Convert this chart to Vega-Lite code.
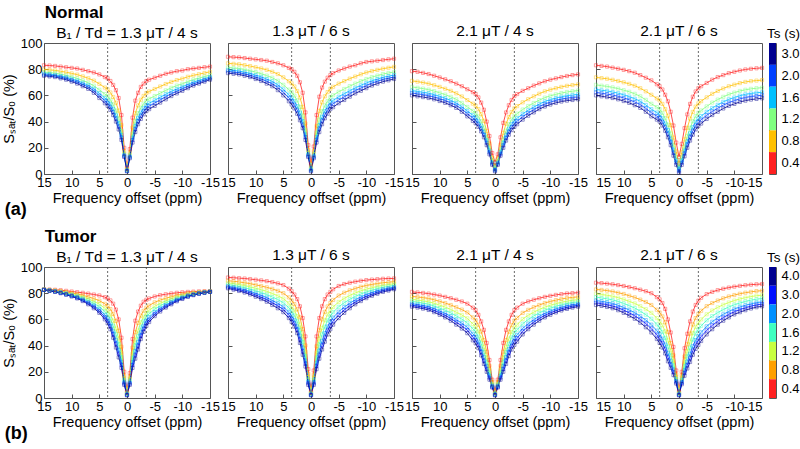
{
"$schema":"https://vega.github.io/schema/vega-lite/v6.json",
"padding":{"left":0,"top":3,"right":0,"bottom":0},
"background":"white",
"config":{
 "font":"Liberation Sans",
 "view":{"stroke":"#555","strokeWidth":1},
 "axis":{"domain":false,"grid":false,"tickColor":"#555","tickSize":-4,"labelFontSize":13,"labelColor":"#000","titleFontSize":14.5,"titleFontWeight":"normal","titleColor":"#000","labelPadding":6,"labelOverlap":false,"labelFlush":false},
 "title":{"fontSize":15.5,"fontWeight":"normal","offset":3,"color":"#000"}
},
"datasets":{
"top":[
{"p":"a1","x":15,"a":83,"b":79.8,"c":77.8,"d":76.6,"e":75.8,"f":75},
{"p":"a1","x":14,"a":82.8,"b":79.5,"c":77.4,"d":76.2,"e":75.3,"f":74.5},
{"p":"a1","x":13,"a":82.5,"b":79.1,"c":77,"d":75.7,"e":74.9,"f":74},
{"p":"a1","x":12,"a":82,"b":78.4,"c":76.2,"d":74.8,"e":73.9,"f":73},
{"p":"a1","x":11,"a":81.5,"b":77.7,"c":75.3,"d":73.9,"e":73,"f":72},
{"p":"a1","x":10,"a":81,"b":76.8,"c":74.2,"d":72.6,"e":71.6,"f":70.5},
{"p":"a1","x":9,"a":80.5,"b":75.9,"c":73,"d":71.3,"e":70.2,"f":69},
{"p":"a1","x":8,"a":79.5,"b":74.5,"c":71.4,"d":69.5,"e":68.3,"f":67},
{"p":"a1","x":7,"a":78.5,"b":73.1,"c":69.7,"d":67.7,"e":66.4,"f":65},
{"p":"a1","x":6,"a":77.5,"b":71.3,"c":67.4,"d":65.1,"e":63.6,"f":62},
{"p":"a1","x":5,"a":76,"b":68.8,"c":64.3,"d":61.6,"e":59.8,"f":58},
{"p":"a1","x":4,"a":74,"b":66,"c":61,"d":58,"e":56,"f":54},
{"p":"a1","x":3.5,"a":73,"b":64.6,"c":59.4,"d":56.2,"e":54.1,"f":52},
{"p":"a1","x":3,"a":71,"b":62.2,"c":56.7,"d":53.4,"e":51.2,"f":49},
{"p":"a1","x":2.5,"a":68,"b":58.8,"c":53.1,"d":49.6,"e":47.3,"f":45},
{"p":"a1","x":2,"a":64,"b":54.4,"c":48.4,"d":44.8,"e":42.4,"f":40},
{"p":"a1","x":1.5,"a":58,"b":48.4,"c":42.4,"d":38.8,"e":36.4,"f":34},
{"p":"a1","x":1,"a":45,"b":37.4,"c":32.7,"d":29.8,"e":27.9,"f":26},
{"p":"a1","x":0.5,"a":20,"b":17.2,"c":15.5,"d":14.4,"e":13.7,"f":13},
{"p":"a1","x":0,"a":5,"b":3.8,"c":3,"d":2.6,"e":2.3,"f":2},
{"p":"a1","x":-0.5,"a":19,"b":16.2,"c":14.5,"d":13.4,"e":12.7,"f":12},
{"p":"a1","x":-1,"a":43,"b":35.4,"c":30.7,"d":27.8,"e":25.9,"f":24},
{"p":"a1","x":-1.5,"a":56,"b":46.4,"c":40.4,"d":36.8,"e":34.4,"f":32},
{"p":"a1","x":-2,"a":62,"b":52.4,"c":46.4,"d":42.8,"e":40.4,"f":38},
{"p":"a1","x":-2.5,"a":66.5,"b":56.7,"c":50.6,"d":46.9,"e":44.5,"f":42},
{"p":"a1","x":-3,"a":69,"b":59.6,"c":53.7,"d":50.2,"e":47.9,"f":45.5},
{"p":"a1","x":-3.5,"a":71,"b":61.8,"c":56.1,"d":52.6,"e":50.3,"f":48},
{"p":"a1","x":-4,"a":72,"b":63,"c":57.4,"d":54,"e":51.8,"f":49.5},
{"p":"a1","x":-5,"a":73.5,"b":64.9,"c":59.5,"d":56.3,"e":54.2,"f":52},
{"p":"a1","x":-6,"a":75,"b":66.8,"c":61.7,"d":58.6,"e":56.6,"f":54.5},
{"p":"a1","x":-7,"a":76.5,"b":68.7,"c":63.8,"d":60.9,"e":59,"f":57},
{"p":"a1","x":-8,"a":77.5,"b":70.3,"c":65.8,"d":63.1,"e":61.3,"f":59.5},
{"p":"a1","x":-9,"a":78.5,"b":71.7,"c":67.5,"d":64.9,"e":63.2,"f":61.5},
{"p":"a1","x":-10,"a":79,"b":72.8,"c":68.9,"d":66.6,"e":65.1,"f":63.5},
{"p":"a1","x":-11,"a":80,"b":74.2,"c":70.6,"d":68.4,"e":67,"f":65.5},
{"p":"a1","x":-12,"a":80.5,"b":75.3,"c":72.1,"d":70.1,"e":68.8,"f":67.5},
{"p":"a1","x":-13,"a":81,"b":76.2,"c":73.2,"d":71.4,"e":70.2,"f":69},
{"p":"a1","x":-14,"a":81.5,"b":77.1,"c":74.4,"d":72.7,"e":71.6,"f":70.5},
{"p":"a1","x":-15,"a":82,"b":78,"c":75.5,"d":74,"e":73,"f":72},

{"p":"a2","x":15,"a":89.5,"b":84.5,"c":81.4,"d":79.5,"e":78.3,"f":77},
{"p":"a2","x":14,"a":89.2,"b":84.1,"c":80.9,"d":79,"e":77.8,"f":76.5},
{"p":"a2","x":13,"a":89,"b":83.8,"c":80.6,"d":78.6,"e":77.3,"f":76},
{"p":"a2","x":12,"a":88.5,"b":83.1,"c":79.7,"d":77.7,"e":76.4,"f":75},
{"p":"a2","x":11,"a":88,"b":82.4,"c":78.9,"d":76.8,"e":75.4,"f":74},
{"p":"a2","x":10,"a":87.5,"b":81.5,"c":77.8,"d":75.5,"e":74,"f":72.5},
{"p":"a2","x":9,"a":87,"b":80.6,"c":76.6,"d":74.2,"e":72.6,"f":71},
{"p":"a2","x":8,"a":86.5,"b":79.5,"c":75.1,"d":72.5,"e":70.8,"f":69},
{"p":"a2","x":7,"a":85.5,"b":78.1,"c":73.5,"d":70.7,"e":68.9,"f":67},
{"p":"a2","x":6,"a":84.5,"b":76.3,"c":71.2,"d":68.1,"e":66.1,"f":64},
{"p":"a2","x":5,"a":83,"b":73.8,"c":68.1,"d":64.6,"e":62.3,"f":60},
{"p":"a2","x":4,"a":81,"b":70.8,"c":64.4,"d":60.6,"e":58.1,"f":55.5},
{"p":"a2","x":3.5,"a":80,"b":69.2,"c":62.5,"d":58.4,"e":55.7,"f":53},
{"p":"a2","x":3,"a":78,"b":66.8,"c":59.8,"d":55.6,"e":52.8,"f":50},
{"p":"a2","x":2.5,"a":75,"b":63.4,"c":56.2,"d":51.8,"e":48.9,"f":46},
{"p":"a2","x":2,"a":70,"b":58.4,"c":51.2,"d":46.8,"e":43.9,"f":41},
{"p":"a2","x":1.5,"a":62,"b":51.2,"c":44.5,"d":40.4,"e":37.7,"f":35},
{"p":"a2","x":1,"a":47,"b":38.6,"c":33.4,"d":30.2,"e":28.1,"f":26},
{"p":"a2","x":0.5,"a":22,"b":18.4,"c":16.2,"d":14.8,"e":13.9,"f":13},
{"p":"a2","x":0,"a":8,"b":5.6,"c":4.1,"d":3.2,"e":2.6,"f":2},
{"p":"a2","x":-0.5,"a":21,"b":17.4,"c":15.2,"d":13.8,"e":12.9,"f":12},
{"p":"a2","x":-1,"a":45,"b":36.6,"c":31.4,"d":28.2,"e":26.1,"f":24},
{"p":"a2","x":-1.5,"a":59,"b":48.2,"c":41.5,"d":37.4,"e":34.7,"f":32},
{"p":"a2","x":-2,"a":66,"b":54.8,"c":47.8,"d":43.6,"e":40.8,"f":38},
{"p":"a2","x":-2.5,"a":70.5,"b":59.3,"c":52.3,"d":48.1,"e":45.3,"f":42.5},
{"p":"a2","x":-3,"a":73.5,"b":62.5,"c":55.6,"d":51.5,"e":48.8,"f":46},
{"p":"a2","x":-3.5,"a":75.5,"b":65.1,"c":58.6,"d":54.7,"e":52.1,"f":49.5},
{"p":"a2","x":-4,"a":77,"b":66.6,"c":60.1,"d":56.2,"e":53.6,"f":51},
{"p":"a2","x":-5,"a":79,"b":69,"c":62.8,"d":59,"e":56.5,"f":54},
{"p":"a2","x":-6,"a":80.5,"b":70.9,"c":64.9,"d":61.3,"e":58.9,"f":56.5},
{"p":"a2","x":-7,"a":82,"b":72.8,"c":67.1,"d":63.6,"e":61.3,"f":59},
{"p":"a2","x":-8,"a":83,"b":74.4,"c":69,"d":65.8,"e":63.7,"f":61.5},
{"p":"a2","x":-9,"a":84.5,"b":76.1,"c":70.9,"d":67.7,"e":65.6,"f":63.5},
{"p":"a2","x":-10,"a":85.5,"b":77.5,"c":72.5,"d":69.5,"e":67.5,"f":65.5},
{"p":"a2","x":-11,"a":86,"b":78.6,"c":74,"d":71.2,"e":69.4,"f":67.5},
{"p":"a2","x":-12,"a":86.5,"b":79.5,"c":75.1,"d":72.5,"e":70.8,"f":69},
{"p":"a2","x":-13,"a":87,"b":80.4,"c":76.3,"d":73.8,"e":72.2,"f":70.5},
{"p":"a2","x":-14,"a":87.5,"b":81.1,"c":77.1,"d":74.7,"e":73.1,"f":71.5},
{"p":"a2","x":-15,"a":88,"b":81.8,"c":77.9,"d":75.6,"e":74.1,"f":72.5},

{"p":"a3","x":15,"a":78.5,"b":71.1,"c":66.5,"d":63.7,"e":61.9,"f":60},
{"p":"a3","x":14,"a":78,"b":70.5,"c":65.8,"d":63,"e":61.2,"f":59.3},
{"p":"a3","x":13,"a":77.2,"b":69.8,"c":65.2,"d":62.4,"e":60.6,"f":58.7},
{"p":"a3","x":12,"a":76.3,"b":69,"c":64.4,"d":61.7,"e":59.8,"f":58},
{"p":"a3","x":11,"a":75,"b":67.8,"c":63.3,"d":60.6,"e":58.8,"f":57},
{"p":"a3","x":10,"a":73.7,"b":66.5,"c":62,"d":59.3,"e":57.5,"f":55.7},
{"p":"a3","x":9,"a":72.3,"b":65.1,"c":60.6,"d":57.9,"e":56.1,"f":54.3},
{"p":"a3","x":8,"a":70.8,"b":63.5,"c":58.9,"d":56.2,"e":54.3,"f":52.5},
{"p":"a3","x":7,"a":69,"b":61.6,"c":57,"d":54.2,"e":52.4,"f":50.5},
{"p":"a3","x":6,"a":67,"b":59.2,"c":54.3,"d":51.4,"e":49.5,"f":47.5},
{"p":"a3","x":5,"a":64.7,"b":56.4,"c":51.2,"d":48.1,"e":46.1,"f":44},
{"p":"a3","x":4,"a":62.5,"b":53.7,"c":48.2,"d":44.9,"e":42.7,"f":40.5},
{"p":"a3","x":3.5,"a":61,"b":52.1,"c":46.5,"d":43.2,"e":40.9,"f":38.7},
{"p":"a3","x":3,"a":58.5,"b":49.5,"c":43.9,"d":40.5,"e":38.3,"f":36},
{"p":"a3","x":2.5,"a":54.5,"b":45.7,"c":40.2,"d":36.9,"e":34.7,"f":32.5},
{"p":"a3","x":2,"a":49,"b":40.6,"c":35.4,"d":32.2,"e":30.1,"f":28},
{"p":"a3","x":1.5,"a":40,"b":32.8,"c":28.3,"d":25.6,"e":23.8,"f":22},
{"p":"a3","x":1,"a":29,"b":23.4,"c":19.9,"d":17.8,"e":16.4,"f":15},
{"p":"a3","x":0.5,"a":16,"b":12.4,"c":10.2,"d":8.8,"e":7.9,"f":7},
{"p":"a3","x":0,"a":9,"b":6.2,"c":4.5,"d":3.4,"e":2.7,"f":2},
{"p":"a3","x":-0.5,"a":15,"b":11.8,"c":9.8,"d":8.6,"e":7.8,"f":7},
{"p":"a3","x":-1,"a":28,"b":22.4,"c":18.9,"d":16.8,"e":15.4,"f":14},
{"p":"a3","x":-1.5,"a":39,"b":31.4,"c":26.7,"d":23.8,"e":21.9,"f":20},
{"p":"a3","x":-2,"a":47,"b":38.4,"c":33,"d":29.8,"e":27.7,"f":25.5},
{"p":"a3","x":-2.5,"a":52.5,"b":43.5,"c":37.9,"d":34.5,"e":32.3,"f":30},
{"p":"a3","x":-3,"a":56.5,"b":47.3,"c":41.6,"d":38.1,"e":35.8,"f":33.5},
{"p":"a3","x":-3.5,"a":59.5,"b":50.1,"c":44.2,"d":40.7,"e":38.4,"f":36},
{"p":"a3","x":-4,"a":61,"b":51.8,"c":46.1,"d":42.6,"e":40.3,"f":38},
{"p":"a3","x":-5,"a":63.5,"b":54.7,"c":49.2,"d":45.9,"e":43.7,"f":41.5},
{"p":"a3","x":-6,"a":65.5,"b":57.1,"c":51.9,"d":48.7,"e":46.6,"f":44.5},
{"p":"a3","x":-7,"a":67.5,"b":59.3,"c":54.2,"d":51.1,"e":49.1,"f":47},
{"p":"a3","x":-8,"a":69.2,"b":61.3,"c":56.4,"d":53.4,"e":51.5,"f":49.5},
{"p":"a3","x":-9,"a":70.8,"b":63.1,"c":58.3,"d":55.4,"e":53.4,"f":51.5},
{"p":"a3","x":-10,"a":72,"b":64.4,"c":59.7,"d":56.8,"e":54.9,"f":53},
{"p":"a3","x":-11,"a":73,"b":65.5,"c":60.8,"d":58,"e":56.2,"f":54.3},
{"p":"a3","x":-12,"a":74,"b":66.5,"c":61.8,"d":59,"e":57.2,"f":55.3},
{"p":"a3","x":-13,"a":74.8,"b":67.3,"c":62.6,"d":59.8,"e":57.9,"f":56},
{"p":"a3","x":-14,"a":75.5,"b":67.9,"c":63.2,"d":60.3,"e":58.4,"f":56.5},
{"p":"a3","x":-15,"a":76,"b":68.4,"c":63.7,"d":60.8,"e":58.9,"f":57},

{"p":"a4","x":15,"a":83,"b":73.8,"c":68.1,"d":64.6,"e":62.3,"f":60},
{"p":"a4","x":14,"a":82.5,"b":73.2,"c":67.4,"d":63.9,"e":61.6,"f":59.3},
{"p":"a4","x":13,"a":82,"b":72.7,"c":66.9,"d":63.4,"e":61,"f":58.7},
{"p":"a4","x":12,"a":81.2,"b":71.9,"c":66.1,"d":62.6,"e":60.3,"f":58},
{"p":"a4","x":11,"a":80.4,"b":71,"c":65.2,"d":61.7,"e":59.3,"f":57},
{"p":"a4","x":10,"a":79.5,"b":70,"c":64,"d":60.5,"e":58.1,"f":55.7},
{"p":"a4","x":9,"a":78.5,"b":68.8,"c":62.8,"d":59.1,"e":56.7,"f":54.3},
{"p":"a4","x":8,"a":77.3,"b":67.4,"c":61.2,"d":57.5,"e":55,"f":52.5},
{"p":"a4","x":7,"a":75.5,"b":65.5,"c":59.3,"d":55.5,"e":53,"f":50.5},
{"p":"a4","x":6,"a":73.5,"b":63.1,"c":56.6,"d":52.7,"e":50.1,"f":47.5},
{"p":"a4","x":5,"a":71.5,"b":60.5,"c":53.6,"d":49.5,"e":46.8,"f":44},
{"p":"a4","x":4,"a":68.5,"b":57.7,"c":51,"d":46.9,"e":44.2,"f":41.5},
{"p":"a4","x":3.5,"a":67,"b":56.2,"c":49.5,"d":45.4,"e":42.7,"f":40},
{"p":"a4","x":3,"a":64.5,"b":53.5,"c":46.6,"d":42.5,"e":39.8,"f":37},
{"p":"a4","x":2.5,"a":60.5,"b":49.5,"c":42.6,"d":38.5,"e":35.8,"f":33},
{"p":"a4","x":2,"a":55.5,"b":44.5,"c":37.6,"d":33.5,"e":30.8,"f":28},
{"p":"a4","x":1.5,"a":47.5,"b":37.3,"c":30.9,"d":27.1,"e":24.6,"f":22},
{"p":"a4","x":1,"a":37,"b":27.8,"c":22.1,"d":18.6,"e":16.3,"f":14},
{"p":"a4","x":0.5,"a":24,"b":17.2,"c":13,"d":10.4,"e":8.7,"f":7},
{"p":"a4","x":0,"a":13,"b":8.2,"c":5.2,"d":3.4,"e":2.2,"f":1},
{"p":"a4","x":-0.5,"a":23,"b":16.6,"c":12.6,"d":10.2,"e":8.6,"f":7},
{"p":"a4","x":-1,"a":35,"b":26.4,"c":21,"d":17.8,"e":15.7,"f":13.5},
{"p":"a4","x":-1.5,"a":45.5,"b":35.3,"c":28.9,"d":25.1,"e":22.6,"f":20},
{"p":"a4","x":-2,"a":53.5,"b":42.3,"c":35.3,"d":31.1,"e":28.3,"f":25.5},
{"p":"a4","x":-2.5,"a":59,"b":47.4,"c":40.2,"d":35.8,"e":32.9,"f":30},
{"p":"a4","x":-3,"a":63,"b":51.4,"c":44.2,"d":39.8,"e":36.9,"f":34},
{"p":"a4","x":-3.5,"a":65.5,"b":53.9,"c":46.7,"d":42.4,"e":39.5,"f":36.6},
{"p":"a4","x":-4,"a":67,"b":55.6,"c":48.5,"d":44.2,"e":41.4,"f":38.5},
{"p":"a4","x":-5,"a":69.5,"b":58.5,"c":51.6,"d":47.5,"e":44.8,"f":42},
{"p":"a4","x":-6,"a":72,"b":61.2,"c":54.5,"d":50.4,"e":47.7,"f":45},
{"p":"a4","x":-7,"a":74,"b":63.4,"c":56.8,"d":52.8,"e":50.2,"f":47.5},
{"p":"a4","x":-8,"a":75.5,"b":65.3,"c":58.9,"d":55.1,"e":52.6,"f":50},
{"p":"a4","x":-9,"a":77,"b":67,"c":60.8,"d":57,"e":54.5,"f":52},
{"p":"a4","x":-10,"a":78,"b":68.2,"c":62.1,"d":58.4,"e":56,"f":53.5},
{"p":"a4","x":-11,"a":79,"b":69.4,"c":63.4,"d":59.8,"e":57.4,"f":55},
{"p":"a4","x":-12,"a":79.8,"b":70.3,"c":64.3,"d":60.8,"e":58.4,"f":56},
{"p":"a4","x":-13,"a":80.3,"b":70.9,"c":65,"d":61.5,"e":59.2,"f":56.8},
{"p":"a4","x":-14,"a":80.7,"b":71.3,"c":65.5,"d":62,"e":59.6,"f":57.3},
{"p":"a4","x":-15,"a":81,"b":71.7,"c":65.9,"d":62.4,"e":60.1,"f":57.8}
],
"bottom":[
{"p":"b1","x":15,"a":83,"b":82.9,"c":82.8,"d":82.7,"e":82.6,"f":82.6,"g":82.5},
{"p":"b1","x":14,"a":82.8,"b":82.5,"c":82.3,"d":82.2,"e":82,"f":81.9,"g":81.8},
{"p":"b1","x":13,"a":82.6,"b":82.1,"c":81.8,"d":81.6,"e":81.3,"f":81.2,"g":81},
{"p":"b1","x":12,"a":82.3,"b":81.6,"c":81.2,"d":80.8,"e":80.5,"f":80.2,"g":80},
{"p":"b1","x":11,"a":81.8,"b":80.9,"c":80.3,"d":79.9,"e":79.4,"f":79.1,"g":78.8},
{"p":"b1","x":10,"a":81.3,"b":80.2,"c":79.4,"d":78.8,"e":78.3,"f":77.9,"g":77.5},
{"p":"b1","x":9,"a":80.8,"b":79.4,"c":78.4,"d":77.7,"e":77,"f":76.5,"g":76},
{"p":"b1","x":8,"a":80.3,"b":78.4,"c":77.2,"d":76.2,"e":75.3,"f":74.6,"g":74},
{"p":"b1","x":7,"a":79.7,"b":77.2,"c":75.6,"d":74.4,"e":73.1,"f":72.3,"g":71.5},
{"p":"b1","x":6,"a":79,"b":75.9,"c":73.8,"d":72.2,"e":70.6,"f":69.6,"g":68.5},
{"p":"b1","x":5,"a":78.3,"b":74.3,"c":71.7,"d":69.7,"e":67.7,"f":66.3,"g":65},
{"p":"b1","x":4,"a":77,"b":71.9,"c":68.5,"d":66,"e":63.4,"f":61.7,"g":60},
{"p":"b1","x":3.5,"a":76,"b":70.3,"c":66.5,"d":63.7,"e":60.8,"f":58.9,"g":57},
{"p":"b1","x":3,"a":74.5,"b":67.9,"c":63.5,"d":60.2,"e":56.9,"f":54.7,"g":52.5},
{"p":"b1","x":2.5,"a":72,"b":64.2,"c":59,"d":55.1,"e":51.2,"f":48.6,"g":46},
{"p":"b1","x":2,"a":67.5,"b":58.8,"c":53,"d":48.7,"e":44.3,"f":41.4,"g":38.5},
{"p":"b1","x":1.5,"a":60,"b":51.3,"c":45.5,"d":41.2,"e":36.8,"f":33.9,"g":31},
{"p":"b1","x":1,"a":46,"b":39.1,"c":34.5,"d":31.1,"e":27.6,"f":25.3,"g":23},
{"p":"b1","x":0.5,"a":20,"b":17,"c":15,"d":13.5,"e":12,"f":11,"g":10},
{"p":"b1","x":0,"a":5,"b":4.1,"c":3.5,"d":3.1,"e":2.6,"f":2.3,"g":2},
{"p":"b1","x":-0.5,"a":19,"b":16.3,"c":14.5,"d":13.2,"e":11.8,"f":10.9,"g":10},
{"p":"b1","x":-1,"a":45,"b":38.4,"c":34,"d":30.7,"e":27.4,"f":25.2,"g":23},
{"p":"b1","x":-1.5,"a":59,"b":50.3,"c":44.5,"d":40.2,"e":35.8,"f":32.9,"g":30},
{"p":"b1","x":-2,"a":66,"b":57.3,"c":51.5,"d":47.2,"e":42.8,"f":39.9,"g":37},
{"p":"b1","x":-2.5,"a":70.5,"b":62.9,"c":57.8,"d":53.9,"e":50.1,"f":47.6,"g":45},
{"p":"b1","x":-3,"a":73.5,"b":66.6,"c":62,"d":58.6,"e":55.1,"f":52.8,"g":50.5},
{"p":"b1","x":-3.5,"a":75,"b":69,"c":65,"d":62,"e":59,"f":57,"g":55},
{"p":"b1","x":-4,"a":76,"b":70.6,"c":67,"d":64.3,"e":61.6,"f":59.8,"g":58},
{"p":"b1","x":-5,"a":77.5,"b":73,"c":70,"d":67.8,"e":65.5,"f":64,"g":62.5},
{"p":"b1","x":-6,"a":78.5,"b":74.8,"c":72.3,"d":70.4,"e":68.5,"f":67.3,"g":66},
{"p":"b1","x":-7,"a":79.2,"b":76.1,"c":74.1,"d":72.6,"e":71,"f":70,"g":69},
{"p":"b1","x":-8,"a":79.8,"b":77.3,"c":75.7,"d":74.4,"e":73.2,"f":72.3,"g":71.5},
{"p":"b1","x":-9,"a":80.3,"b":78.4,"c":77.1,"d":76.1,"e":75.1,"f":74.5,"g":73.8},
{"p":"b1","x":-10,"a":80.7,"b":79.2,"c":78.2,"d":77.4,"e":76.6,"f":76.1,"g":75.6},
{"p":"b1","x":-11,"a":81,"b":79.9,"c":79.1,"d":78.5,"e":78,"f":77.6,"g":77.2},
{"p":"b1","x":-12,"a":81.2,"b":80.4,"c":79.9,"d":79.4,"e":79,"f":78.8,"g":78.5},
{"p":"b1","x":-13,"a":81.4,"b":80.8,"c":80.5,"d":80.2,"e":79.9,"f":79.7,"g":79.5},
{"p":"b1","x":-14,"a":81.5,"b":81.1,"c":80.9,"d":80.7,"e":80.5,"f":80.4,"g":80.3},
{"p":"b1","x":-15,"a":81.6,"b":81.4,"c":81.3,"d":81.2,"e":81.1,"f":81.1,"g":81},

{"p":"b2","x":15,"a":92,"b":89.5,"c":87.9,"d":86.6,"e":85.4,"f":84.5,"g":83.7},
{"p":"b2","x":14,"a":91.8,"b":89.1,"c":87.3,"d":85.9,"e":84.5,"f":83.6,"g":82.7},
{"p":"b2","x":13,"a":91.5,"b":88.6,"c":86.6,"d":85.1,"e":83.7,"f":82.7,"g":81.7},
{"p":"b2","x":12,"a":91.2,"b":88,"c":85.9,"d":84.2,"e":82.6,"f":81.6,"g":80.5},
{"p":"b2","x":11,"a":90.8,"b":87.3,"c":84.9,"d":83.1,"e":81.4,"f":80.2,"g":79},
{"p":"b2","x":10,"a":90.3,"b":86.4,"c":83.8,"d":81.9,"e":79.9,"f":78.6,"g":77.3},
{"p":"b2","x":9,"a":89.8,"b":85.5,"c":82.7,"d":80.5,"e":78.4,"f":76.9,"g":75.5},
{"p":"b2","x":8,"a":89.2,"b":84.5,"c":81.4,"d":79,"e":76.6,"f":75.1,"g":73.5},
{"p":"b2","x":7,"a":88.5,"b":83.3,"c":79.8,"d":77.1,"e":74.5,"f":72.8,"g":71},
{"p":"b2","x":6,"a":87.5,"b":81.8,"c":78,"d":75.2,"e":72.3,"f":70.4,"g":68.5},
{"p":"b2","x":5,"a":86.2,"b":80,"c":75.9,"d":72.7,"e":69.6,"f":67.6,"g":65.5},
{"p":"b2","x":4,"a":83.5,"b":76.8,"c":72.3,"d":68.9,"e":65.5,"f":63.3,"g":61},
{"p":"b2","x":3.5,"a":81.5,"b":74.5,"c":69.8,"d":66.2,"e":62.7,"f":60.4,"g":58},
{"p":"b2","x":3,"a":79,"b":71.7,"c":66.8,"d":63.1,"e":59.4,"f":57,"g":54.5},
{"p":"b2","x":2.5,"a":75.5,"b":67.7,"c":62.5,"d":58.6,"e":54.7,"f":52.1,"g":49.5},
{"p":"b2","x":2,"a":70,"b":61.6,"c":56,"d":51.8,"e":47.6,"f":44.8,"g":42},
{"p":"b2","x":1.5,"a":61,"b":52.6,"c":47,"d":42.8,"e":38.6,"f":35.8,"g":33},
{"p":"b2","x":1,"a":47,"b":40.1,"c":35.5,"d":32.1,"e":28.6,"f":26.3,"g":24},
{"p":"b2","x":0.5,"a":22,"b":18.4,"c":16,"d":14.2,"e":12.4,"f":11.2,"g":10},
{"p":"b2","x":0,"a":5,"b":4.1,"c":3.5,"d":3.1,"e":2.6,"f":2.3,"g":2},
{"p":"b2","x":-0.5,"a":21,"b":17.7,"c":15.5,"d":13.9,"e":12.2,"f":11.1,"g":10},
{"p":"b2","x":-1,"a":47,"b":39.5,"c":34.5,"d":30.8,"e":27,"f":24.5,"g":22},
{"p":"b2","x":-1.5,"a":61,"b":51.7,"c":45.5,"d":40.9,"e":36.2,"f":33.1,"g":30},
{"p":"b2","x":-2,"a":70,"b":60.1,"c":53.5,"d":48.6,"e":43.6,"f":40.3,"g":37},
{"p":"b2","x":-2.5,"a":75.5,"b":65.8,"c":59.3,"d":54.4,"e":49.5,"f":46.3,"g":43},
{"p":"b2","x":-3,"a":79,"b":69.9,"c":63.8,"d":59.2,"e":54.6,"f":51.6,"g":48.5},
{"p":"b2","x":-3.5,"a":81,"b":72.5,"c":66.8,"d":62.5,"e":58.2,"f":55.4,"g":52.5},
{"p":"b2","x":-4,"a":83,"b":74.9,"c":69.5,"d":65.5,"e":61.4,"f":58.7,"g":56},
{"p":"b2","x":-5,"a":85.5,"b":78.2,"c":73.3,"d":69.6,"e":65.9,"f":63.5,"g":61},
{"p":"b2","x":-6,"a":87,"b":80.4,"c":76,"d":72.7,"e":69.4,"f":67.2,"g":65},
{"p":"b2","x":-7,"a":88,"b":82.2,"c":78.3,"d":75.3,"e":72.4,"f":70.5,"g":68.5},
{"p":"b2","x":-8,"a":88.8,"b":83.6,"c":80.2,"d":77.6,"e":75,"f":73.2,"g":71.5},
{"p":"b2","x":-9,"a":89.5,"b":84.9,"c":81.8,"d":79.4,"e":77.1,"f":75.6,"g":74},
{"p":"b2","x":-10,"a":90,"b":85.9,"c":83.1,"d":81,"e":79,"f":77.6,"g":76.2},
{"p":"b2","x":-11,"a":90.4,"b":86.7,"c":84.2,"d":82.3,"e":80.5,"f":79.2,"g":78},
{"p":"b2","x":-12,"a":90.7,"b":87.4,"c":85.2,"d":83.5,"e":81.8,"f":80.7,"g":79.6},
{"p":"b2","x":-13,"a":91,"b":88,"c":86,"d":84.5,"e":83,"f":82,"g":81},
{"p":"b2","x":-14,"a":91.2,"b":88.4,"c":86.6,"d":85.2,"e":83.8,"f":82.9,"g":82},
{"p":"b2","x":-15,"a":91.3,"b":88.8,"c":87.2,"d":85.9,"e":84.7,"f":83.8,"g":83},

{"p":"b3","x":15,"a":81,"b":77.6,"c":75.4,"d":73.7,"e":72,"f":70.8,"g":69.7},
{"p":"b3","x":14,"a":80.6,"b":77.1,"c":74.8,"d":73.1,"e":71.3,"f":70.2,"g":69},
{"p":"b3","x":13,"a":80.2,"b":76.6,"c":74.2,"d":72.4,"e":70.6,"f":69.4,"g":68.2},
{"p":"b3","x":12,"a":79.7,"b":76,"c":73.5,"d":71.6,"e":69.7,"f":68.5,"g":67.2},
{"p":"b3","x":11,"a":79,"b":75,"c":72.3,"d":70.2,"e":68.2,"f":66.9,"g":65.5},
{"p":"b3","x":10,"a":78.2,"b":73.8,"c":70.9,"d":68.6,"e":66.4,"f":65,"g":63.5},
{"p":"b3","x":9,"a":77.2,"b":72.5,"c":69.4,"d":67,"e":64.6,"f":63.1,"g":61.5},
{"p":"b3","x":8,"a":76.2,"b":71,"c":67.6,"d":65,"e":62.4,"f":60.7,"g":59},
{"p":"b3","x":7,"a":75,"b":69.3,"c":65.5,"d":62.7,"e":59.8,"f":57.9,"g":56},
{"p":"b3","x":6,"a":73.7,"b":67.5,"c":63.4,"d":60.2,"e":57.1,"f":55.1,"g":53},
{"p":"b3","x":5,"a":72,"b":65.3,"c":60.8,"d":57.4,"e":54,"f":51.8,"g":49.5},
{"p":"b3","x":4,"a":69,"b":61.5,"c":56.5,"d":52.8,"e":49,"f":46.5,"g":44},
{"p":"b3","x":3.5,"a":67,"b":59.4,"c":54.4,"d":50.6,"e":46.8,"f":44.2,"g":41.7},
{"p":"b3","x":3,"a":63.5,"b":55.9,"c":50.8,"d":46.9,"e":43.1,"f":40.6,"g":38},
{"p":"b3","x":2.5,"a":58.5,"b":50.7,"c":45.5,"d":41.6,"e":37.7,"f":35.1,"g":32.5},
{"p":"b3","x":2,"a":52,"b":44.2,"c":39,"d":35.1,"e":31.2,"f":28.6,"g":26},
{"p":"b3","x":1.5,"a":42,"b":35.4,"c":31,"d":27.7,"e":24.4,"f":22.2,"g":20},
{"p":"b3","x":1,"a":29,"b":24.5,"c":21.5,"d":19.3,"e":17,"f":15.5,"g":14},
{"p":"b3","x":0.5,"a":14,"b":12.2,"c":11,"d":10.1,"e":9.2,"f":8.6,"g":8},
{"p":"b3","x":0,"a":5,"b":4.1,"c":3.5,"d":3.1,"e":2.6,"f":2.3,"g":2},
{"p":"b3","x":-0.5,"a":14,"b":12.2,"c":11,"d":10.1,"e":9.2,"f":8.6,"g":8},
{"p":"b3","x":-1,"a":29,"b":24.5,"c":21.5,"d":19.3,"e":17,"f":15.5,"g":14},
{"p":"b3","x":-1.5,"a":42,"b":35.4,"c":31,"d":27.7,"e":24.4,"f":22.2,"g":20},
{"p":"b3","x":-2,"a":52,"b":44.2,"c":39,"d":35.1,"e":31.2,"f":28.6,"g":26},
{"p":"b3","x":-2.5,"a":58.5,"b":50.6,"c":45.3,"d":41.3,"e":37.3,"f":34.7,"g":32},
{"p":"b3","x":-3,"a":63.5,"b":55.6,"c":50.3,"d":46.3,"e":42.3,"f":39.7,"g":37},
{"p":"b3","x":-3.5,"a":67,"b":59.1,"c":53.8,"d":49.8,"e":45.8,"f":43.2,"g":40.5},
{"p":"b3","x":-4,"a":69,"b":61.2,"c":56,"d":52.1,"e":48.2,"f":45.6,"g":43},
{"p":"b3","x":-5,"a":72,"b":65,"c":60.3,"d":56.7,"e":53.2,"f":50.9,"g":48.5},
{"p":"b3","x":-6,"a":73.7,"b":67.3,"c":63.1,"d":59.9,"e":56.7,"f":54.6,"g":52.5},
{"p":"b3","x":-7,"a":75,"b":69.3,"c":65.5,"d":62.7,"e":59.8,"f":57.9,"g":56},
{"p":"b3","x":-8,"a":76.2,"b":71,"c":67.6,"d":65,"e":62.4,"f":60.7,"g":59},
{"p":"b3","x":-9,"a":77.2,"b":72.5,"c":69.4,"d":67,"e":64.6,"f":63.1,"g":61.5},
{"p":"b3","x":-10,"a":78,"b":73.7,"c":70.8,"d":68.6,"e":66.4,"f":65,"g":63.5},
{"p":"b3","x":-11,"a":78.7,"b":74.7,"c":72,"d":70,"e":68,"f":66.6,"g":65.3},
{"p":"b3","x":-12,"a":79.3,"b":75.6,"c":73.1,"d":71.2,"e":69.3,"f":68.1,"g":66.8},
{"p":"b3","x":-13,"a":79.8,"b":76.3,"c":73.9,"d":72.1,"e":70.4,"f":69.2,"g":68},
{"p":"b3","x":-14,"a":80.1,"b":76.8,"c":74.6,"d":72.9,"e":71.2,"f":70.1,"g":69},
{"p":"b3","x":-15,"a":80.4,"b":77.2,"c":75.1,"d":73.4,"e":71.8,"f":70.8,"g":69.7},

{"p":"b4","x":15,"a":88,"b":82.9,"c":79.5,"d":77,"e":74.4,"f":72.7,"g":71},
{"p":"b4","x":14,"a":87.7,"b":82.5,"c":79,"d":76.4,"e":73.8,"f":72,"g":70.3},
{"p":"b4","x":13,"a":87.3,"b":82,"c":78.4,"d":75.7,"e":73.1,"f":71.3,"g":69.5},
{"p":"b4","x":12,"a":86.8,"b":81.3,"c":77.7,"d":74.9,"e":72.2,"f":70.3,"g":68.5},
{"p":"b4","x":11,"a":86.2,"b":80.4,"c":76.6,"d":73.7,"e":70.8,"f":68.9,"g":67},
{"p":"b4","x":10,"a":85.5,"b":79.4,"c":75.3,"d":72.2,"e":69.1,"f":67.1,"g":65},
{"p":"b4","x":9,"a":84.7,"b":78.1,"c":73.8,"d":70.5,"e":67.2,"f":65,"g":62.8},
{"p":"b4","x":8,"a":83.8,"b":76.8,"c":72.2,"d":68.7,"e":65.2,"f":62.8,"g":60.5},
{"p":"b4","x":7,"a":82.7,"b":75.1,"c":70.1,"d":66.3,"e":62.5,"f":60,"g":57.5},
{"p":"b4","x":6,"a":81.5,"b":73.3,"c":67.8,"d":63.6,"e":59.5,"f":56.8,"g":54},
{"p":"b4","x":5,"a":80,"b":71,"c":65,"d":60.5,"e":56,"f":53,"g":50},
{"p":"b4","x":4,"a":77,"b":67.4,"c":61,"d":56.2,"e":51.4,"f":48.2,"g":45},
{"p":"b4","x":3.5,"a":75.3,"b":65.3,"c":58.7,"d":53.7,"e":48.7,"f":45.3,"g":42},
{"p":"b4","x":3,"a":72.5,"b":62.3,"c":55.5,"d":50.4,"e":45.3,"f":41.9,"g":38.5},
{"p":"b4","x":2.5,"a":68,"b":57.8,"c":51,"d":45.9,"e":40.8,"f":37.4,"g":34},
{"p":"b4","x":2,"a":60,"b":50.4,"c":44,"d":39.2,"e":34.4,"f":31.2,"g":28},
{"p":"b4","x":1.5,"a":50,"b":41.9,"c":36.5,"d":32.5,"e":28.4,"f":25.7,"g":23},
{"p":"b4","x":1,"a":39,"b":32.6,"c":28.3,"d":25,"e":21.8,"f":19.7,"g":17.5},
{"p":"b4","x":0.5,"a":21,"b":18,"c":16,"d":14.5,"e":13,"f":12,"g":11},
{"p":"b4","x":0,"a":5,"b":4.1,"c":3.5,"d":3.1,"e":2.6,"f":2.3,"g":2},
{"p":"b4","x":-0.5,"a":20,"b":17.2,"c":15.3,"d":13.8,"e":12.4,"f":11.5,"g":10.5},
{"p":"b4","x":-1,"a":38,"b":31.7,"c":27.5,"d":24.4,"e":21.2,"f":19.1,"g":17},
{"p":"b4","x":-1.5,"a":49,"b":41,"c":35.8,"d":31.8,"e":27.8,"f":25.2,"g":22.5},
{"p":"b4","x":-2,"a":58.5,"b":49.2,"c":43,"d":38.4,"e":33.7,"f":30.6,"g":27.5},
{"p":"b4","x":-2.5,"a":66,"b":56.1,"c":49.5,"d":44.6,"e":39.6,"f":36.3,"g":33},
{"p":"b4","x":-3,"a":71,"b":61,"c":54.3,"d":49.2,"e":44.2,"f":40.9,"g":37.5},
{"p":"b4","x":-3.5,"a":74.3,"b":64.2,"c":57.4,"d":52.3,"e":47.3,"f":43.9,"g":40.5},
{"p":"b4","x":-4,"a":76.5,"b":66.6,"c":60,"d":55.1,"e":50.1,"f":46.8,"g":43.5},
{"p":"b4","x":-5,"a":79.3,"b":70.1,"c":63.9,"d":59.3,"e":54.7,"f":51.6,"g":48.5},
{"p":"b4","x":-6,"a":81,"b":72.5,"c":66.8,"d":62.5,"e":58.2,"f":55.4,"g":52.5},
{"p":"b4","x":-7,"a":82.3,"b":74.4,"c":69.2,"d":65.2,"e":61.3,"f":58.6,"g":56},
{"p":"b4","x":-8,"a":83.4,"b":76.1,"c":71.2,"d":67.5,"e":63.9,"f":61.4,"g":59},
{"p":"b4","x":-9,"a":84.3,"b":77.5,"c":72.9,"d":69.5,"e":66.1,"f":63.8,"g":61.5},
{"p":"b4","x":-10,"a":85,"b":78.6,"c":74.4,"d":71.2,"e":68,"f":65.9,"g":63.8},
{"p":"b4","x":-11,"a":85.6,"b":79.6,"c":75.6,"d":72.5,"e":69.5,"f":67.5,"g":65.5},
{"p":"b4","x":-12,"a":86.1,"b":80.4,"c":76.6,"d":73.7,"e":70.8,"f":68.9,"g":67},
{"p":"b4","x":-13,"a":86.5,"b":81,"c":77.4,"d":74.7,"e":71.9,"f":70.1,"g":68.3},
{"p":"b4","x":-14,"a":86.8,"b":81.6,"c":78.1,"d":75.4,"e":72.8,"f":71.1,"g":69.3},
{"p":"b4","x":-15,"a":87,"b":81.9,"c":78.5,"d":76,"e":73.4,"f":71.7,"g":70}
]
},
"resolve":{"scale":{"color":"independent"}},
"spacing":8,
"vconcat":[
{"title":{"text":"(a)","orient":"bottom","anchor":"start","fontSize":18,"fontWeight":"bold","dx":4,"offset":-4},
 "vconcat":[
 {"title":{"text":"Normal","anchor":"start","fontSize":17,"fontWeight":"bold","dx":44,"offset":2},
  "spacing":0,
  "hconcat":[
   {"spacing":18,"bounds":"flush","hconcat":[
    {"width":166,"height":131,"title":{"text":"B₁ / Td = 1.3 μT / 4 s","offset":-4},
     "encoding":{"x":{"field":"x","type":"quantitative","scale":{"domain":[-15,15],"reverse":true,"nice":false},"axis":{"values":[15,10,5,0,-5,-10,-15],"labelExpr":"''+datum.value","title":"Frequency offset (ppm)","titlePadding":2}}},
     "layer":[
      {"data":{"values":[{"x":3.5},{"x":-3.5}]},"mark":{"type":"rule","strokeDash":[2,2],"color":"#444","strokeWidth":0.8},"encoding":{}},
      {"data":{"name":"top"},"transform":[{"filter":"datum.p=='a1'"},{"fold":["a","b","c","d","e","f"],"as":["k","y"]}],
       "encoding":{"y":{"field":"y","type":"quantitative","scale":{"domain":[0,100],"nice":false},"axis":{"values":[0,20,40,60,80,100],"title":"Sₛₐₜ/S₀ (%)","titlePadding":4}},
        "color":{"field":"k","type":"nominal","scale":{"domain":["a","b","c","d","e","f"],"range":["#FF2020","#FFC000","#80FF80","#00C0FF","#0040FF","#00008F"]},"legend":null}},
       "layer":[{"mark":{"type":"line","strokeWidth":0.8}},{"mark":{"type":"point","shape":"square","filled":false,"size":10,"strokeWidth":0.6}}]}
     ]},
    {"width":166,"height":131,"title":"1.3 μT / 6 s",
     "encoding":{"x":{"field":"x","type":"quantitative","scale":{"domain":[-15,15],"reverse":true,"nice":false},"axis":{"values":[15,10,5,0,-5,-10,-15],"labelExpr":"''+datum.value","title":"Frequency offset (ppm)","titlePadding":2}}},
     "layer":[
      {"data":{"values":[{"x":3.5},{"x":-3.5}]},"mark":{"type":"rule","strokeDash":[2,2],"color":"#444","strokeWidth":0.8},"encoding":{}},
      {"data":{"name":"top"},"transform":[{"filter":"datum.p=='a2'"},{"fold":["a","b","c","d","e","f"],"as":["k","y"]}],
       "encoding":{"y":{"field":"y","type":"quantitative","scale":{"domain":[0,100],"nice":false},"axis":{"values":[0,20,40,60,80,100],"labels":false,"title":null}},
        "color":{"field":"k","type":"nominal","scale":{"domain":["a","b","c","d","e","f"],"range":["#FF2020","#FFC000","#80FF80","#00C0FF","#0040FF","#00008F"]},"legend":null}},
       "layer":[{"mark":{"type":"line","strokeWidth":0.8}},{"mark":{"type":"point","shape":"square","filled":false,"size":10,"strokeWidth":0.6}}]}
     ]},
    {"width":166,"height":131,"title":"2.1 μT / 4 s",
     "encoding":{"x":{"field":"x","type":"quantitative","scale":{"domain":[-15,15],"reverse":true,"nice":false},"axis":{"values":[15,10,5,0,-5,-10,-15],"labelExpr":"''+datum.value","title":"Frequency offset (ppm)","titlePadding":2}}},
     "layer":[
      {"data":{"values":[{"x":3.5},{"x":-3.5}]},"mark":{"type":"rule","strokeDash":[2,2],"color":"#444","strokeWidth":0.8},"encoding":{}},
      {"data":{"name":"top"},"transform":[{"filter":"datum.p=='a3'"},{"fold":["a","b","c","d","e","f"],"as":["k","y"]}],
       "encoding":{"y":{"field":"y","type":"quantitative","scale":{"domain":[0,100],"nice":false},"axis":{"values":[0,20,40,60,80,100],"labels":false,"title":null}},
        "color":{"field":"k","type":"nominal","scale":{"domain":["a","b","c","d","e","f"],"range":["#FF2020","#FFC000","#80FF80","#00C0FF","#0040FF","#00008F"]},"legend":null}},
       "layer":[{"mark":{"type":"line","strokeWidth":0.8}},{"mark":{"type":"point","shape":"square","filled":false,"size":10,"strokeWidth":0.6}}]}
     ]},
    {"width":166,"height":131,"title":"2.1 μT / 6 s",
     "encoding":{"x":{"field":"x","type":"quantitative","scale":{"domain":[-15,15],"reverse":true,"nice":false},"axis":{"values":[15,10,5,0,-5,-10,-15],"labelExpr":"''+datum.value","title":"Frequency offset (ppm)","titlePadding":2,"labelFlush":true,"labelFlushOffset":0}}},
     "layer":[
      {"data":{"values":[{"x":3.5},{"x":-3.5}]},"mark":{"type":"rule","strokeDash":[2,2],"color":"#444","strokeWidth":0.8},"encoding":{}},
      {"data":{"name":"top"},"transform":[{"filter":"datum.p=='a4'"},{"fold":["a","b","c","d","e","f"],"as":["k","y"]}],
       "encoding":{"y":{"field":"y","type":"quantitative","scale":{"domain":[0,100],"nice":false},"axis":{"values":[0,20,40,60,80,100],"labels":false,"title":null}},
        "color":{"field":"k","type":"nominal","scale":{"domain":["a","b","c","d","e","f"],"range":["#FF2020","#FFC000","#80FF80","#00C0FF","#0040FF","#00008F"]},"legend":null}},
       "layer":[{"mark":{"type":"line","strokeWidth":0.8}},{"mark":{"type":"point","shape":"square","filled":false,"size":10,"strokeWidth":0.6}}]}
     ]}
   ]},
   {"width":7,"height":131,"title":{"text":"Ts (s)","anchor":"start","fontSize":13.5,"dx":-2},
    "data":{"values":[{"k":"f","l":"3.0"},{"k":"e","l":"2.0"},{"k":"d","l":"1.6"},{"k":"c","l":"1.2"},{"k":"b","l":"0.8"},{"k":"a","l":"0.4"}]},
    "mark":"rect",
    "encoding":{"y":{"field":"l","type":"ordinal","sort":"descending","scale":{"paddingInner":0,"paddingOuter":0},"axis":{"orient":"right","title":null,"ticks":false,"labelPadding":5}},
     "color":{"field":"k","type":"nominal","scale":{"domain":["a","b","c","d","e","f"],"range":["#FF2020","#FFC000","#80FF80","#00C0FF","#0040FF","#00008F"]},"legend":null}}}
  ]}
 ]},
{"title":{"text":"(b)","orient":"bottom","anchor":"start","fontSize":18,"fontWeight":"bold","dx":4,"offset":-4},
 "vconcat":[
 {"title":{"text":"Tumor","anchor":"start","fontSize":17,"fontWeight":"bold","dx":44,"offset":2},
  "spacing":0,
  "hconcat":[
   {"spacing":18,"bounds":"flush","hconcat":[
    {"width":166,"height":131,"title":{"text":"B₁ / Td = 1.3 μT / 4 s","offset":-4},
     "encoding":{"x":{"field":"x","type":"quantitative","scale":{"domain":[-15,15],"reverse":true,"nice":false},"axis":{"values":[15,10,5,0,-5,-10,-15],"labelExpr":"''+datum.value","title":"Frequency offset (ppm)","titlePadding":2}}},
     "layer":[
      {"data":{"values":[{"x":3.5},{"x":-3.5}]},"mark":{"type":"rule","strokeDash":[2,2],"color":"#444","strokeWidth":0.8},"encoding":{}},
      {"data":{"name":"bottom"},"transform":[{"filter":"datum.p=='b1'"},{"fold":["a","b","c","d","e","f","g"],"as":["k","y"]}],
       "encoding":{"y":{"field":"y","type":"quantitative","scale":{"domain":[0,100],"nice":false},"axis":{"values":[0,20,40,60,80,100],"title":"Sₛₐₜ/S₀ (%)","titlePadding":4}},
        "color":{"field":"k","type":"nominal","scale":{"domain":["a","b","c","d","e","f","g"],"range":["#FF2020","#FFA000","#C8FF40","#40FFC0","#0090FF","#0010FF","#00008F"]},"legend":null}},
       "layer":[{"mark":{"type":"line","strokeWidth":0.8}},{"mark":{"type":"point","shape":"square","filled":false,"size":10,"strokeWidth":0.6}}]}
     ]},
    {"width":166,"height":131,"title":"1.3 μT / 6 s",
     "encoding":{"x":{"field":"x","type":"quantitative","scale":{"domain":[-15,15],"reverse":true,"nice":false},"axis":{"values":[15,10,5,0,-5,-10,-15],"labelExpr":"''+datum.value","title":"Frequency offset (ppm)","titlePadding":2}}},
     "layer":[
      {"data":{"values":[{"x":3.5},{"x":-3.5}]},"mark":{"type":"rule","strokeDash":[2,2],"color":"#444","strokeWidth":0.8},"encoding":{}},
      {"data":{"name":"bottom"},"transform":[{"filter":"datum.p=='b2'"},{"fold":["a","b","c","d","e","f","g"],"as":["k","y"]}],
       "encoding":{"y":{"field":"y","type":"quantitative","scale":{"domain":[0,100],"nice":false},"axis":{"values":[0,20,40,60,80,100],"labels":false,"title":null}},
        "color":{"field":"k","type":"nominal","scale":{"domain":["a","b","c","d","e","f","g"],"range":["#FF2020","#FFA000","#C8FF40","#40FFC0","#0090FF","#0010FF","#00008F"]},"legend":null}},
       "layer":[{"mark":{"type":"line","strokeWidth":0.8}},{"mark":{"type":"point","shape":"square","filled":false,"size":10,"strokeWidth":0.6}}]}
     ]},
    {"width":166,"height":131,"title":"2.1 μT / 4 s",
     "encoding":{"x":{"field":"x","type":"quantitative","scale":{"domain":[-15,15],"reverse":true,"nice":false},"axis":{"values":[15,10,5,0,-5,-10,-15],"labelExpr":"''+datum.value","title":"Frequency offset (ppm)","titlePadding":2}}},
     "layer":[
      {"data":{"values":[{"x":3.5},{"x":-3.5}]},"mark":{"type":"rule","strokeDash":[2,2],"color":"#444","strokeWidth":0.8},"encoding":{}},
      {"data":{"name":"bottom"},"transform":[{"filter":"datum.p=='b3'"},{"fold":["a","b","c","d","e","f","g"],"as":["k","y"]}],
       "encoding":{"y":{"field":"y","type":"quantitative","scale":{"domain":[0,100],"nice":false},"axis":{"values":[0,20,40,60,80,100],"labels":false,"title":null}},
        "color":{"field":"k","type":"nominal","scale":{"domain":["a","b","c","d","e","f","g"],"range":["#FF2020","#FFA000","#C8FF40","#40FFC0","#0090FF","#0010FF","#00008F"]},"legend":null}},
       "layer":[{"mark":{"type":"line","strokeWidth":0.8}},{"mark":{"type":"point","shape":"square","filled":false,"size":10,"strokeWidth":0.6}}]}
     ]},
    {"width":166,"height":131,"title":"2.1 μT / 6 s",
     "encoding":{"x":{"field":"x","type":"quantitative","scale":{"domain":[-15,15],"reverse":true,"nice":false},"axis":{"values":[15,10,5,0,-5,-10,-15],"labelExpr":"''+datum.value","title":"Frequency offset (ppm)","titlePadding":2,"labelFlush":true,"labelFlushOffset":0}}},
     "layer":[
      {"data":{"values":[{"x":3.5},{"x":-3.5}]},"mark":{"type":"rule","strokeDash":[2,2],"color":"#444","strokeWidth":0.8},"encoding":{}},
      {"data":{"name":"bottom"},"transform":[{"filter":"datum.p=='b4'"},{"fold":["a","b","c","d","e","f","g"],"as":["k","y"]}],
       "encoding":{"y":{"field":"y","type":"quantitative","scale":{"domain":[0,100],"nice":false},"axis":{"values":[0,20,40,60,80,100],"labels":false,"title":null}},
        "color":{"field":"k","type":"nominal","scale":{"domain":["a","b","c","d","e","f","g"],"range":["#FF2020","#FFA000","#C8FF40","#40FFC0","#0090FF","#0010FF","#00008F"]},"legend":null}},
       "layer":[{"mark":{"type":"line","strokeWidth":0.8}},{"mark":{"type":"point","shape":"square","filled":false,"size":10,"strokeWidth":0.6}}]}
     ]}
   ]},
   {"width":7,"height":131,"title":{"text":"Ts (s)","anchor":"start","fontSize":13.5,"dx":-2},
    "data":{"values":[{"k":"g","l":"4.0"},{"k":"f","l":"3.0"},{"k":"e","l":"2.0"},{"k":"d","l":"1.6"},{"k":"c","l":"1.2"},{"k":"b","l":"0.8"},{"k":"a","l":"0.4"}]},
    "mark":"rect",
    "encoding":{"y":{"field":"l","type":"ordinal","sort":"descending","scale":{"paddingInner":0,"paddingOuter":0},"axis":{"orient":"right","title":null,"ticks":false,"labelPadding":5}},
     "color":{"field":"k","type":"nominal","scale":{"domain":["a","b","c","d","e","f","g"],"range":["#FF2020","#FFA000","#C8FF40","#40FFC0","#0090FF","#0010FF","#00008F"]},"legend":null}}}
  ]}
 ]}
]
}
